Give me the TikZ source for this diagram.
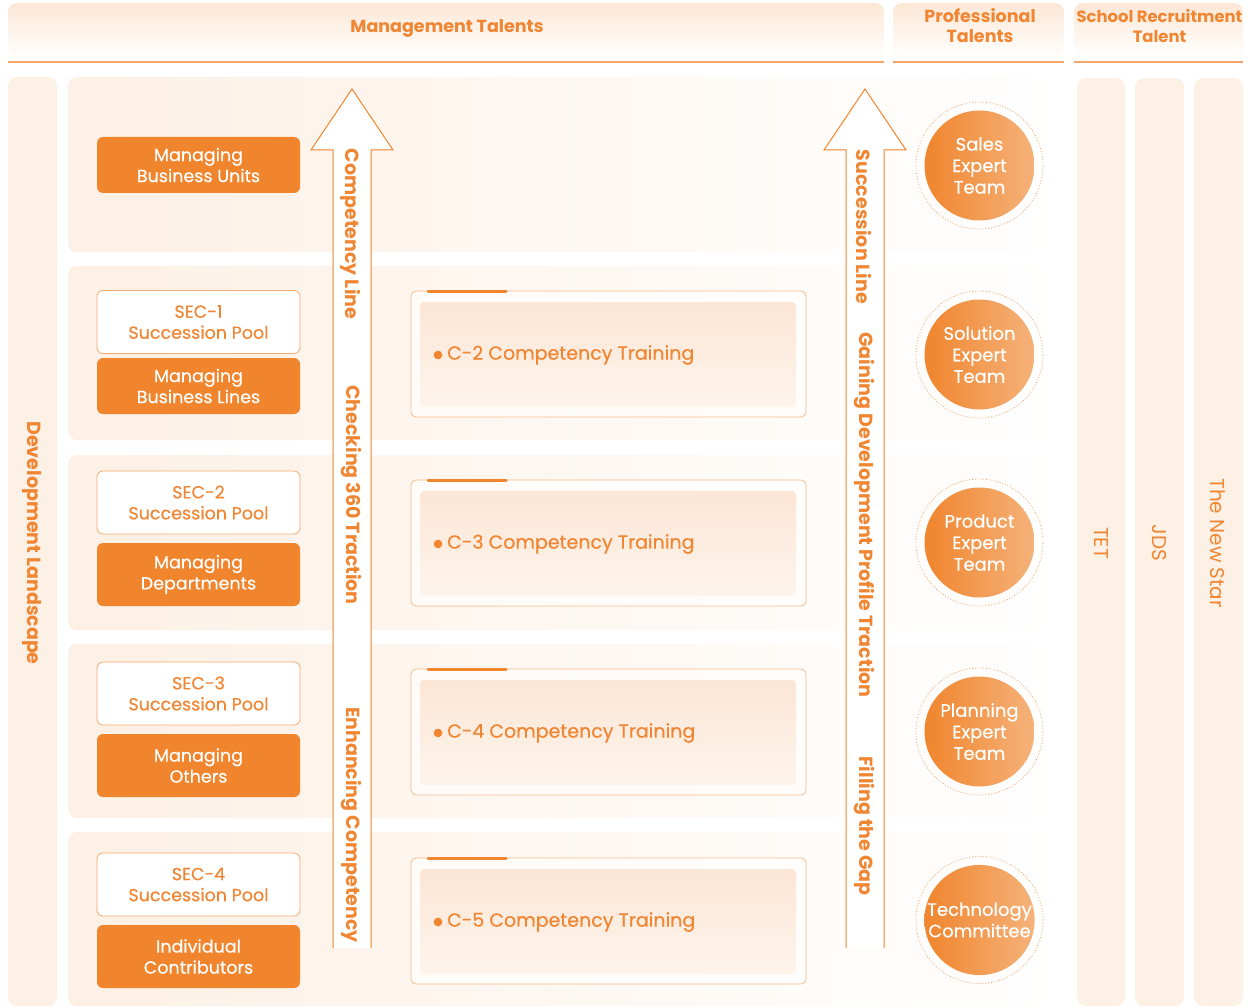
\documentclass[tikz,border=0pt]{standalone}
\usepackage{fontspec}
\setmainfont{Poppins}
\newfontfamily\medfont{Poppins}[FakeBold=0.35]
\definecolor{org}{HTML}{F0852D}
\definecolor{orgtxt}{HTML}{F08532}
\definecolor{pale}{HTML}{FDF0E5}
\definecolor{hdr}{HTML}{FDE7D5}
\definecolor{cbox}{HTML}{FCE6D5}
\definecolor{cboxb}{HTML}{FEF4EC}
\definecolor{circR}{HTML}{F5B27A}
\definecolor{lineor}{HTML}{F4A56A}
\begin{document}
\begin{tikzpicture}[x=1pt,y=-1pt,
  txt/.style={font=\medfont\fontsize{17.5}{21}\selectfont, align=center, inner sep=0pt},
  hdrbox/.style={rounded corners=9pt, top color=hdr, bottom color=white, draw=none},
  hdrline/.style={draw=lineor, line width=1.3pt},
  hdrtxt/.style={align=center, inner sep=0pt, font=\fontsize{17.5}{20}\selectfont\bfseries, text=orgtxt},
  rowpanel/.style={rounded corners=9pt, left color=pale, right color=white, draw=none},
  colbar/.style={rounded corners=9pt, fill=pale, draw=none},
  poolbox/.style={txt, draw=org!70, line width=0.8pt, fill=white, rounded corners=6pt, text=orgtxt, minimum width=203pt, minimum height=63pt},
  mgrbox/.style={txt, fill=org, rounded corners=6pt, text=white, minimum width=203pt, minimum height=63pt},
  vtxt/.style={inner sep=0pt, rotate=-90, text=orgtxt, font=\fontsize{19}{20}\selectfont\bfseries},
  vtxtr/.style={inner sep=0pt, rotate=-90, text=orgtxt, font=\fontsize{20}{20}\selectfont},
  bigarrow/.style={draw=org, line width=1pt, fill=white, line join=miter},
  team/.style={txt, font=\medfont\fontsize{18}{21.5}\selectfont, circle, minimum size=110pt, left color=org, right color=circR, text=white, draw=none},
  ring/.style={circle, minimum size=127pt, draw=org!80, dotted, line width=0.8pt, inner sep=0pt},
  ctext/.style={font=\medfont\fontsize{19}{20}\selectfont, text=orgtxt, inner sep=0pt, anchor=west}
]
\useasboundingbox (0,0) rectangle (1260,1008);

% ---------------- headers
\shade[hdrbox] (8,3) rectangle (884,57);
\shade[hdrbox] (893,3) rectangle (1064,57);
\shade[hdrbox] (1074,3) rectangle (1243,57);
\draw[hdrline] (8,62) -- (884,62);
\draw[hdrline] (893,62) -- (1064,62);
\draw[hdrline] (1074,62) -- (1243,62);
\node[hdrtxt] (hMgmt) at (447,28) {Management Talents};
\node[hdrtxt] (hProf) at (980,26) {Professional\\Talents};
\node[hdrtxt, font=\fontsize{16.4}{20}\selectfont\bfseries] (hSchool) at (1159.5,26) {School Recruitment\\Talent};

% ---------------- left column
\fill[colbar] (8,77) rectangle (57,1006);
\node[vtxt] (devland) at (32,543) {Development Landscape};

% ---------------- row panels
\shade[rowpanel] (68,77) rectangle (1064,252);
\shade[rowpanel] (68,266) rectangle (1064,440);
\shade[rowpanel] (68,455) rectangle (1064,630);
\shade[rowpanel] (68,644) rectangle (1064,818);
\shade[rowpanel] (68,832) rectangle (1064,1006);

% ---------------- right columns
\fill[colbar] (1077,78) rectangle (1125,1006);
\fill[colbar] (1135,78) rectangle (1184,1006);
\fill[colbar] (1194,78) rectangle (1243,1006);
\node[vtxtr] (tet) at (1101,543) {TET};
\node[vtxtr] (jds) at (1159,543) {JDS};
\node[vtxtr] (newstar) at (1218,543) {The New Star};

% ---------------- left boxes
\node[mgrbox, minimum height=56pt] (mbu) at (198.5,165) {Managing\\Business Units};
\node[poolbox] (sec1) at (198.5,322) {SEC-1\\Succession Pool};
\node[mgrbox, minimum height=56pt] (mbl) at (198.5,386) {Managing\\Business Lines};
\node[poolbox] (sec2) at (198.5,502.5) {SEC-2\\Succession Pool};
\node[mgrbox] (mdep) at (198.5,574.5) {Managing\\Departments};
\node[poolbox] (sec3) at (198.5,693.5) {SEC-3\\Succession Pool};
\node[mgrbox] (moth) at (198.5,765.5) {Managing\\Others};
\node[poolbox] (sec4) at (198.5,884.5) {SEC-4\\Succession Pool};
\node[mgrbox] (indiv) at (198.5,956.5) {Individual\\Contributors};

% ---------------- arrows
\draw[bigarrow] (333,948) -- (333,150) -- (311,150) -- (352,89) -- (393,150) -- (371,150) -- (371,948);
\node[vtxt] (a1t1) at (351,234) {Competency Line};
\node[vtxt] (a1t2) at (351,495) {Checking 360 Traction};
\node[vtxt] (a1t3) at (351,825) {Enhancing Competency};

\draw[bigarrow] (846,948) -- (846,150) -- (824,150) -- (865,89) -- (906,150) -- (884,150) -- (884,948);
\node[vtxt] (a2t1) at (864,227) {Succession Line};
\node[vtxt] (a2t2) at (864,515) {Gaining Development Profile Traction};
\node[vtxt] (a2t3) at (864,826) {Filling the Gap};

% ---------------- competency training boxes
\foreach \n/\y in {2/291,3/480,4/669,5/858}{
  \draw[draw=org!55, line width=0.8pt, fill=white, fill opacity=0.6, rounded corners=5pt] (411,\y) rectangle (806,\y+126);
  \shade[top color=cbox, bottom color=cboxb, rounded corners=4pt] (420,\y+11) rectangle (796,\y+116);
  \draw[org, line width=3pt, line cap=round] (428,\y) -- (506,\y);
  \fill[org] (438,\y+64) circle (4.3pt);
  \node[ctext] (c\n) at (447,\y+64) {C-\n\ Competency Training};
}

% ---------------- team circles
\node[ring] (ring1) at (979.5,165.5) {};
\node[team] (sales) at (979.5,165.5) {Sales\\Expert\\Team};
\node[ring] (ring2) at (979.5,354.5) {};
\node[team] (solution) at (979.5,354.5) {Solution\\Expert\\Team};
\node[ring] (ring3) at (979.5,542.5) {};
\node[team] (product) at (979.5,542.5) {Product\\Expert\\Team};
\node[ring] (ring4) at (979.5,731.5) {};
\node[team] (planning) at (979.5,731.5) {Planning\\Expert\\Team};
\node[ring] (ring5) at (979.5,920) {};
\node[team] (tech) at (979.5,920) {Technology\\Committee};
\end{tikzpicture}
\end{document}
